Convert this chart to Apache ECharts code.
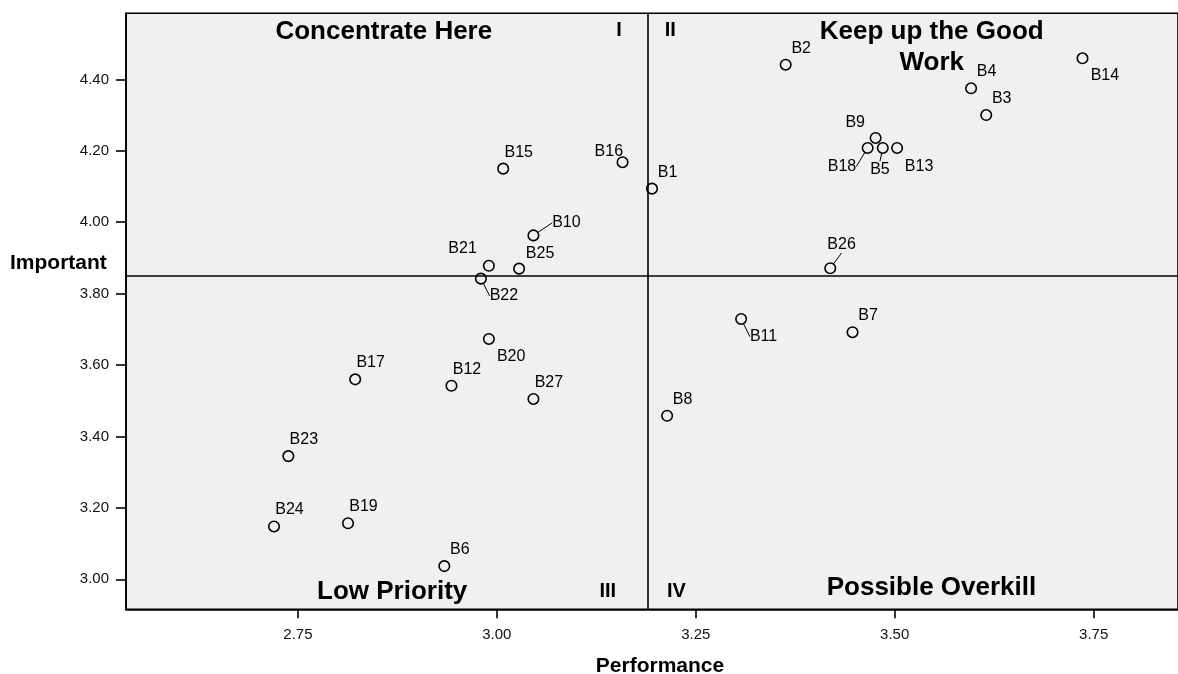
<!DOCTYPE html>
<html><head><meta charset="utf-8">
<script src="https://cdn.jsdelivr.net/npm/echarts@6/dist/echarts.min.js"></script>
<style>html,body{margin:0;padding:0;background:#fff}#c{width:1178px;height:674px}</style>
</head><body><div id="c"></div>
<script>
// ---- data ----
const names = ['B1','B2','B3','B4','B5','B6','B7','B8','B9','B10','B11','B12','B13','B14','B15','B16','B17','B18','B19','B20','B21','B22','B23','B24','B25','B26','B27'];
const performance = [3.195,3.363,3.615,3.596,3.485,2.934,3.447,3.214,3.476,3.046,3.307,2.943,3.503,3.736,3.008,3.158,2.822,3.466,2.813,2.990,2.990,2.980,2.738,2.720,3.028,3.419,3.046];
const important   = [4.094,4.441,4.300,4.375,4.208,3.037,3.692,3.458,4.236,3.963,3.729,3.542,4.208,4.459,4.150,4.168,3.560,4.208,3.157,3.673,3.878,3.842,3.345,3.148,3.870,3.871,3.505];
const xTicks = [2.75,3.00,3.25,3.50,3.75];
const yTicks = [3.00,3.20,3.40,3.60,3.80,4.00,4.20,4.40];
const meanPerformance = 3.187;
const meanImportant = 3.855;

// ---- layout / style config ----
const FONT = "'Liberation Sans', Arial, sans-serif";
const defaultOffset = [15.5, -16.5];
const labelOffsets = {
  B16:[-13.7,-10.3], B21:[-26.3,-17.4], B9:[-20.4,-15], B10:[33,-12.6], B25:[21,-14.7],
  B22:[23,17.3], B14:[22.4,17.7], B18:[-25.7,18.7], B5:[-2.8,21.3], B13:[22,18.7],
  B26:[11.3,-23.3], B20:[22.3,17.7], B11:[22.4,17.7]
};
const leaderLines = ['B10','B22','B18','B5','B26','B11'];
const quadrantLabels = [
  {text:'Concentrate Here', at:[2.858,4.533], size:26},
  {text:'I', at:[3.1535,4.537], size:20},
  {text:'II', at:[3.2179,4.537], size:20},
  {text:'Keep up the Good\nWork', at:[3.5465,4.490], size:26},
  {text:'Low Priority', at:[2.8685,2.965], size:26},
  {text:'III', at:[3.1395,2.966], size:20},
  {text:'IV', at:[3.2257,2.966], size:20},
  {text:'Possible Overkill', at:[3.5462,2.977], size:26}
];

const points = names.map((n,i)=>({
  name:n, value:[performance[i], important[i]],
  labelLine:{show: leaderLines.includes(n)}
}));

const chart = echarts.init(document.getElementById('c'));
chart.setOption({
  animation:false,
  backgroundColor:'#ffffff',
  grid:{left:126, top:13.3, right:-2, bottom:64.7, show:true, backgroundColor:'#f0f0f0', borderColor:'#000', borderWidth:1.6},
  xAxis:{
    type:'value', min:2.534, max:3.856,
    splitLine:{show:false},
    axisLine:{show:true, lineStyle:{color:'#000', width:1.6}},
    axisTick:{show:true, customValues:xTicks, length:9, lineStyle:{color:'#000', width:1.6}},
    axisLabel:{customValues:xTicks, formatter:v=>v.toFixed(2), margin:18, color:'#111', fontSize:15, fontFamily:FONT}
  },
  yAxis:{
    type:'value', min:2.916, max:4.585,
    splitLine:{show:false},
    axisLine:{show:true, lineStyle:{color:'#000', width:1.6}},
    axisTick:{show:true, customValues:yTicks, length:10, lineStyle:{color:'#000', width:1.6}},
    axisLabel:{customValues:yTicks, formatter:v=>v.toFixed(2), margin:17, color:'#111', fontSize:15, fontFamily:FONT}
  },
  graphic:[
    {type:'text', x:10, y:263.7, style:{text:'Important', fill:'#000', font:'bold 21px '+FONT, align:'left', verticalAlign:'middle'}},
    {type:'text', x:660, y:666, style:{text:'Performance', fill:'#000', font:'bold 21px '+FONT, align:'center', verticalAlign:'middle'}}
  ],
  series:[
    {
      type:'scatter', name:'items', data:points, z:5,
      symbol:'circle', symbolSize:10.5,
      itemStyle:{color:'rgba(0,0,0,0)', borderColor:'#000', borderWidth:1.6, opacity:1},
      label:{show:true, position:'inside', formatter:p=>p.name, color:'#000', opacity:1, textBorderWidth:0, textBorderColor:'transparent', fontSize:16, fontFamily:FONT, align:'center', verticalAlign:'middle'},
      labelLine:{show:false, lineStyle:{color:'#000', width:1, opacity:1}},
      labelLayout:function(params){
        const n = names[params.dataIndex];
        const o = labelOffsets[n] || defaultOffset;
        return {dx:o[0], dy:o[1]};
      },
      markLine:{
        silent:true, symbol:'none', animation:false,
        lineStyle:{color:'#000', width:1.6, type:'solid', opacity:1},
        label:{show:false},
        data:[{xAxis:meanPerformance},{yAxis:meanImportant}]
      }
    },
    {
      type:'scatter', name:'quadrants', silent:true, z:4,
      symbolSize:1, itemStyle:{color:'rgba(0,0,0,0)'},
      data:quadrantLabels.map(q=>({value:q.at, name:q.text, label:{fontSize:q.size}})),
      label:{show:true, position:'inside', formatter:p=>p.name, color:'#000', opacity:1, textBorderWidth:0, textBorderColor:'transparent', fontWeight:'bold', fontFamily:FONT, lineHeight:31, align:'center', verticalAlign:'middle'}
    }
  ]
});
</script></body></html>
